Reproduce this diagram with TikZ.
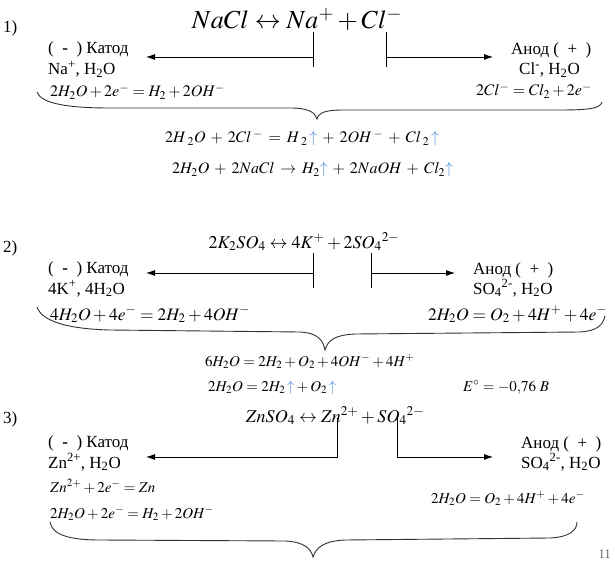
\documentclass[tikz,border=0pt]{standalone}
\usepackage{mathptmx}
\usepackage[no-math]{fontspec}
\setmainfont{Liberation Serif}
\usetikzlibrary{arrows.meta}
\definecolor{arrowblue}{RGB}{70,140,215}
\definecolor{bracegray}{RGB}{50,50,50}
\definecolor{pagegray}{RGB}{110,110,110}
\newcommand{\up}{\textcolor{arrowblue}{\uparrow}}
\newcommand{\wide}{\medmuskip=5.5mu plus 2mu\thickmuskip=6.5mu plus 2mu}
\newcommand{\katod}{(\enspace\textbf{-}\enspace) Катод}
\newcommand{\anod}{Анод (\enspace+\enspace)}
\tikzset{
  txt/.style={inner sep=0pt, anchor=base west, font=\fontsize{17}{20}\selectfont},
  eqs/.style={inner sep=0pt, anchor=base west, font=\fontsize{16}{19}\selectfont},
  eqm/.style={inner sep=0pt, anchor=base west, font=\fontsize{17.5}{20}\selectfont},
  sums/.style={inner sep=0pt, anchor=base west, font=\fontsize{15}{18}\selectfont},
  sumb/.style={inner sep=0pt, anchor=base west, font=\fontsize{16}{19}\selectfont\wide},
  title/.style={inner sep=0pt, anchor=base, font=\fontsize{18}{22}\selectfont},
  conn/.style={line width=0.8pt, -{Latex[length=9pt,width=6pt]}},
  tick/.style={line width=0.8pt},
  bracestyle/.style={draw=bracegray, line width=0.9pt}
}
\begin{document}
\begin{tikzpicture}[x=1pt,y=-1pt]
\useasboundingbox (0,0) rectangle (615,561);
\fill[white] (0,0) rectangle (615,561);
% ---------- 1 ----------
\node[txt] (n1) at (3,33) {1)};
\node[inner sep=0pt, anchor=base, font=\fontsize{26}{30}\selectfont] (t1) at (297,29) {$NaCl \leftrightarrow Na^{+} + Cl^{-}$};
\node[txt] (k1) at (48,54) {\katod};
\node[txt] (k1b) at (48,75) {Na\textsuperscript{+}, H\textsubscript{2}O};
\node[eqs] (k1c) at (50,97) {$2H_2O + 2e^{-} = H_2 + 2OH^{-}$};
\node[txt] (a1) at (511,55) {\anod};
\node[txt] (a1b) at (519,75) {Cl\textsuperscript{-}, H\textsubscript{2}O};
\node[eqs] (a1c) at (476,96) {$2Cl^{-} = Cl_2 + 2e^{-}$};
\coordinate (p1t) at (313,32); \coordinate (p1b) at (313,67); \coordinate (p1m) at (313,57);
\coordinate (q1t) at (386,32); \coordinate (q1b) at (386,67); \coordinate (q1m) at (386,57);
\coordinate (l1) at (146,57); \coordinate (r1) at (493,57);
\draw[tick] (p1t) -- (p1b);
\draw[tick] (q1t) -- (q1b);
\draw[conn] (p1m) -- (l1);
\draw[conn] (q1m) -- (r1);
\draw[bracestyle] (37,92) .. controls (41,104) and (70,108) .. (110,108) -- (290,108)
  .. controls (308,108) and (315,112) .. (317,119)
  .. controls (319,112) and (326,110) .. (345,110) -- (560,110)
  .. controls (592,110) and (600,108) .. (602,102);
\node[sumb] (s1) at (165,143) {$2H\,{}_{2}O + 2Cl\,{}^{-} = H\,{}_{2}\,\up + 2OH\,{}^{-} + Cl\,{}_{2}\,\up$};
\node[sumb] (s1b) at (172,174) {$2H_2O + 2NaCl \rightarrow H_2\up + 2NaOH + Cl_2\up$};
% ---------- 2 ----------
\node[txt] (n2) at (3,252) {2)};
\node[title] (t2) at (304,248) {$2K_2SO_4 \leftrightarrow 4K^{+} + 2SO_4{}^{2-}$};
\node[txt] (k2) at (48,273) {\katod};
\node[txt] (k2b) at (48,294) {4K\textsuperscript{+}, 4H\textsubscript{2}O};
\node[eqm] (k2c) at (50,320) {$4H_2O + 4e^{-} = 2H_2 + 4OH^{-}$};
\node[txt] (a2) at (473,274) {\anod};
\node[txt] (a2b) at (473,294) {SO\textsubscript{4}\textsuperscript{2-}, H\textsubscript{2}O};
\node[eqm] (a2c) at (428,320) {$2H_2O = O_2 + 4H^{+} + 4e^{-}$};
\coordinate (p2t) at (313,253); \coordinate (p2b) at (313,288); \coordinate (p2m) at (313,273);
\coordinate (q2t) at (371,253); \coordinate (q2b) at (371,288); \coordinate (q2m) at (371,273);
\coordinate (l2) at (146,273); \coordinate (r2) at (455,273);
\draw[tick] (p2t) -- (p2b);
\draw[tick] (q2t) -- (q2b);
\draw[conn] (p2m) -- (l2);
\draw[conn] (q2m) -- (r2);
\draw[bracestyle] (37,307) .. controls (42,322) and (70,329) .. (110,330) -- (300,332)
  .. controls (318,333) and (323,340) .. (325,350)
  .. controls (328,340) and (335,335) .. (355,334) -- (580,332)
  .. controls (597,331) and (603,325) .. (605,316);
\node[sums] (s2) at (205,366) {$6H_2O = 2H_2 + O_2 + 4OH^{-} + 4H^{+}$};
\node[sums] (s2b) at (208,391) {$2H_2O = 2H_2\,\up + O_2\,\up$};
\node[sums] (e2) at (463,391) {$E^{\circ} = -0{,}76\ B$};
% ---------- 3 ----------
\node[txt] (n3) at (3,423) {3)};
\node[title] (t3) at (335,422) {$ZnSO_4 \leftrightarrow Zn^{2+} + SO_4{}^{2-}$};
\node[txt] (k3) at (48,447) {\katod};
\node[txt] (k3b) at (48,468) {Zn\textsuperscript{2+}, H\textsubscript{2}O};
\node[sums] (k3c) at (50,492) {$Zn^{2+} + 2e^{-} = Zn$};
\node[sums] (k3d) at (50,518) {$2H_2O + 2e^{-} = H_2 + 2OH^{-}$};
\node[txt] (a3) at (521,448) {\anod};
\node[txt] (a3b) at (521,468) {SO\textsubscript{4}\textsuperscript{2-}, H\textsubscript{2}O};
\node[sums] (a3c) at (431,503) {$2H_2O = O_2 + 4H^{+} + 4e^{-}$};
\coordinate (p3t) at (337,418); \coordinate (p3b) at (337,457);
\coordinate (q3t) at (397,418); \coordinate (q3b) at (397,457);
\coordinate (l3) at (146,457); \coordinate (r3) at (493,457);
\draw[conn] (p3t) -- (p3b) -- (l3);
\draw[conn] (q3t) -- (q3b) -- (r3);
\draw[bracestyle] (50,522) .. controls (52,535) and (70,540) .. (100,540) -- (285,541)
  .. controls (305,542) and (311,549) .. (313,557)
  .. controls (316,548) and (323,541) .. (345,540) -- (550,538)
  .. controls (570,537) and (577,530) .. (577,522);
\node[inner sep=0pt, anchor=base east, text=pagegray, font=\fontsize{13}{15}\selectfont] (pg) at (611,558) {11};
\end{tikzpicture}
\end{document}
